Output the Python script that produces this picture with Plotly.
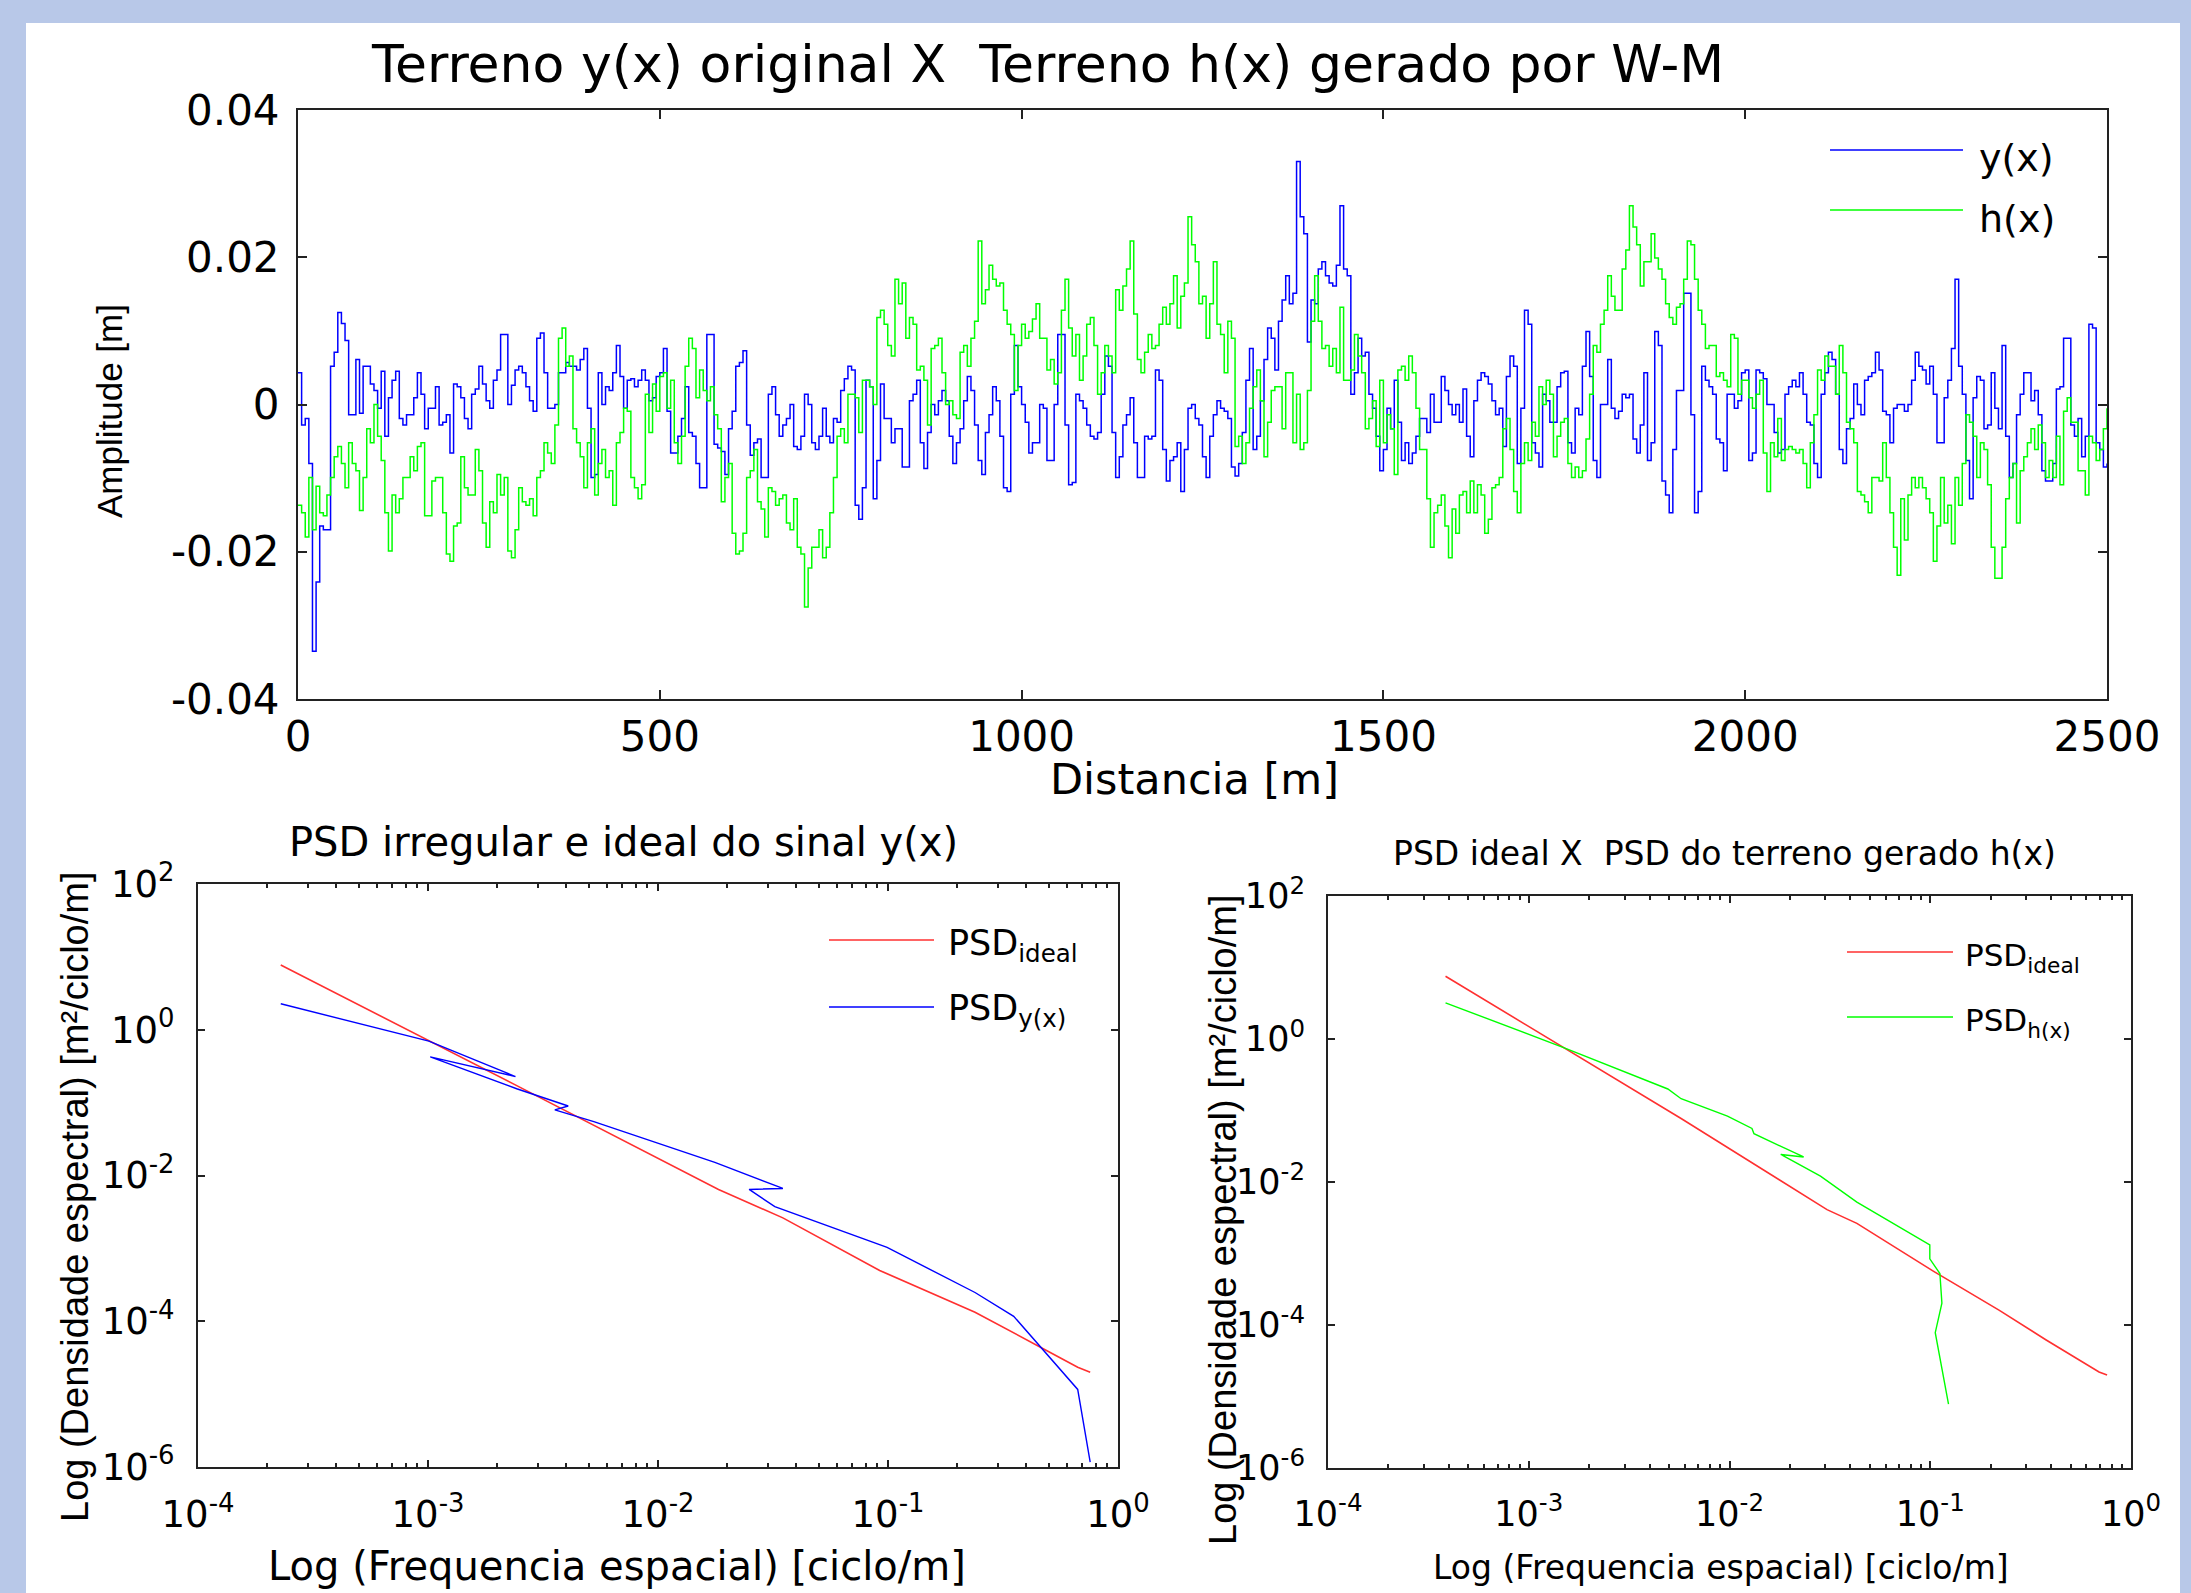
import plotly.graph_objects as go

W, H = 2191, 1593


def px(x):
    return x / W


def py(y):
    return 1 - y / H


# ---------------- data: top chart (amplitude [m] vs distance [m], every 5 m) ----------------
distancia = list(range(0, 2505, 5))

y_x = [
    0.0043, -0.0028, -0.0019, -0.0080, -0.0335, -0.0241, -0.0165, -0.0170, -0.0170, 0.0052,
    0.0071, 0.0125, 0.0110, 0.0087, -0.0014, -0.0014, 0.0061, -0.0012, 0.0052, 0.0052,
    0.0028, 0.0019, -0.0005, 0.0045, -0.0043, 0.0009, 0.0033, 0.0045, -0.0019, -0.0028,
    -0.0014, -0.0014, 0.0009, 0.0043, 0.0014, -0.0033, -0.0005, -0.0005, 0.0024, -0.0028,
    -0.0024, -0.0014, -0.0066, 0.0028, 0.0024, 0.0009, -0.0019, -0.0033, 0.0014, 0.0021,
    0.0052, 0.0028, 0.0005, -0.0005, 0.0033, 0.0047, 0.0095, 0.0095, 0.0000, 0.0026,
    0.0047, 0.0052, 0.0043, 0.0024, 0.0005, -0.0009, 0.0090, 0.0097, 0.0043, -0.0005,
    -0.0005, 0.0000, 0.0043, 0.0043, 0.0057, 0.0052, 0.0052, 0.0047, 0.0061, 0.0076,
    -0.0005, -0.0099, -0.0095, 0.0043, 0.0000, 0.0024, 0.0019, 0.0043, 0.0080, 0.0038,
    -0.0005, 0.0033, 0.0035, 0.0024, 0.0033, 0.0047, 0.0033, 0.0005, 0.0009, 0.0038,
    0.0043, 0.0076, -0.0009, -0.0066, -0.0066, -0.0043, -0.0019, 0.0024, -0.0038, -0.0043,
    -0.0080, -0.0113, -0.0113, 0.0095, 0.0095, -0.0054, -0.0059, -0.0064, -0.0095, -0.0033,
    -0.0009, 0.0052, 0.0057, 0.0073, -0.0028, -0.0069, -0.0052, -0.0047, -0.0099, -0.0099,
    0.0014, 0.0024, -0.0014, -0.0043, -0.0028, -0.0019, 0.0000, -0.0057, -0.0061, -0.0043,
    0.0014, 0.0000, -0.0052, -0.0061, -0.0043, -0.0005, -0.0043, -0.0052, -0.0019, -0.0024,
    0.0019, 0.0035, 0.0052, 0.0047, -0.0137, -0.0156, -0.0113, 0.0033, 0.0024, -0.0128,
    -0.0076, 0.0028, -0.0019, -0.0019, -0.0052, -0.0033, -0.0033, -0.0085, -0.0085, 0.0005,
    0.0014, 0.0033, -0.0052, -0.0087, -0.0038, 0.0000, -0.0014, 0.0005, 0.0019, 0.0005,
    -0.0043, -0.0080, -0.0052, -0.0033, 0.0005, 0.0038, 0.0019, -0.0028, -0.0076, -0.0095,
    -0.0038, -0.0014, 0.0024, 0.0005, -0.0043, -0.0113, -0.0118, 0.0014, 0.0080, 0.0024,
    0.0000, -0.0024, -0.0066, -0.0052, -0.0052, 0.0000, -0.0005, -0.0076, -0.0076, 0.0000,
    0.0095, 0.0095, -0.0028, -0.0109, -0.0106, 0.0014, 0.0005, -0.0005, -0.0028, -0.0043,
    -0.0047, -0.0038, 0.0014, 0.0066, 0.0052, -0.0038, -0.0099, -0.0071, -0.0028, -0.0014,
    0.0009, -0.0052, -0.0099, -0.0099, -0.0043, -0.0047, -0.0043, 0.0047, 0.0033, -0.0061,
    -0.0104, -0.0076, -0.0071, -0.0052, -0.0118, -0.0061, -0.0005, 0.0000, -0.0019, -0.0028,
    -0.0071, -0.0099, -0.0043, -0.0014, 0.0005, -0.0005, -0.0009, -0.0019, -0.0085, -0.0097,
    -0.0080, -0.0038, 0.0033, 0.0076, -0.0061, -0.0043, 0.0005, 0.0061, 0.0104, 0.0090,
    0.0047, 0.0113, 0.0142, 0.0175, 0.0137, 0.0151, 0.0330, 0.0255, 0.0232, 0.0085,
    0.0142, 0.0137, 0.0184, 0.0194, 0.0175, 0.0165, 0.0161, 0.0189, 0.0270, 0.0184,
    0.0175, 0.0014, 0.0043, 0.0090, 0.0066, 0.0071, 0.0014, -0.0005, -0.0043, -0.0090,
    -0.0061, -0.0005, -0.0033, 0.0033, -0.0024, -0.0076, -0.0052, -0.0080, -0.0066, -0.0043,
    -0.0019, -0.0019, -0.0038, 0.0014, -0.0024, -0.0024, 0.0038, 0.0019, 0.0000, -0.0014,
    0.0000, -0.0024, 0.0021, -0.0043, -0.0071, 0.0005, 0.0033, 0.0043, 0.0038, 0.0028,
    0.0005, -0.0014, -0.0005, -0.0057, 0.0038, 0.0066, 0.0052, -0.0080, -0.0005, 0.0128,
    0.0109, -0.0052, -0.0066, -0.0085, 0.0014, 0.0005, -0.0024, -0.0024, 0.0024, 0.0043,
    0.0045, -0.0052, -0.0066, -0.0005, -0.0014, 0.0052, 0.0099, 0.0038, -0.0076, -0.0099,
    0.0000, 0.0000, 0.0061, -0.0005, -0.0019, -0.0009, 0.0014, 0.0009, 0.0014, -0.0047,
    -0.0066, -0.0028, 0.0043, -0.0076, -0.0052, 0.0099, 0.0080, -0.0104, -0.0123, -0.0147,
    -0.0061, 0.0019, 0.0019, 0.0151, 0.0151, -0.0014, -0.0147, -0.0118, 0.0052, 0.0033,
    0.0024, 0.0014, -0.0047, -0.0052, -0.0090, 0.0014, 0.0014, -0.0005, 0.0005, 0.0043,
    0.0047, -0.0076, -0.0066, 0.0047, 0.0043, 0.0035, 0.0000, 0.0000, -0.0038, -0.0066,
    -0.0061, 0.0014, 0.0024, 0.0033, 0.0024, 0.0043, 0.0014, -0.0024, -0.0028, -0.0080,
    -0.0099, 0.0014, 0.0043, 0.0071, 0.0061, 0.0014, -0.0061, -0.0080, -0.0033, -0.0019,
    0.0028, 0.0000, -0.0014, 0.0033, 0.0038, 0.0043, 0.0071, 0.0047, -0.0009, -0.0014,
    -0.0052, -0.0005, 0.0000, 0.0000, -0.0009, 0.0000, 0.0033, 0.0071, 0.0052, 0.0047,
    0.0028, 0.0052, 0.0014, -0.0052, -0.0052, 0.0009, 0.0033, 0.0076, 0.0170, 0.0052,
    0.0014, -0.0076, -0.0128, 0.0009, 0.0038, 0.0033, -0.0033, -0.0028, 0.0043, -0.0005,
    -0.0033, 0.0080, -0.0043, -0.0099, -0.0080, -0.0014, 0.0014, 0.0043, 0.0043, 0.0005,
    0.0019, -0.0014, -0.0090, -0.0104, -0.0104, -0.0080, 0.0021, 0.0024, 0.0090, 0.0090,
    -0.0028, -0.0043, -0.0019, -0.0071, -0.0043, 0.0109, 0.0104, -0.0052, -0.0061, -0.0085,
    -0.0080,
]

h_x = [
    -0.0137, -0.0147, -0.0180, -0.0099, -0.0170, -0.0111, -0.0147, -0.0151, -0.0123, -0.0099,
    -0.0071, -0.0057, -0.0080, -0.0113, -0.0052, -0.0080, -0.0090, -0.0144, -0.0099, -0.0033,
    -0.0052, 0.0000, -0.0043, -0.0076, -0.0147, -0.0199, -0.0123, -0.0147, -0.0128, -0.0099,
    -0.0099, -0.0071, -0.0090, -0.0057, -0.0052, -0.0151, -0.0151, -0.0104, -0.0099, -0.0099,
    -0.0147, -0.0203, -0.0213, -0.0165, -0.0161, -0.0071, -0.0113, -0.0123, -0.0123, -0.0061,
    -0.0090, -0.0161, -0.0194, -0.0132, -0.0147, -0.0095, -0.0123, -0.0099, -0.0199, -0.0208,
    -0.0170, -0.0113, -0.0132, -0.0137, -0.0128, -0.0151, -0.0099, -0.0090, -0.0052, -0.0066,
    -0.0080, -0.0028, 0.0090, 0.0104, 0.0052, 0.0066, -0.0033, -0.0052, -0.0071, -0.0113,
    -0.0052, -0.0033, -0.0123, -0.0080, -0.0061, -0.0099, -0.0090, -0.0137, -0.0052, -0.0038,
    -0.0005, -0.0009, -0.0099, -0.0113, -0.0128, -0.0109, 0.0014, -0.0038, 0.0028, -0.0009,
    0.0038, 0.0043, -0.0005, 0.0033, -0.0052, -0.0080, -0.0043, 0.0052, 0.0090, 0.0076,
    0.0009, 0.0047, 0.0019, 0.0005, 0.0024, -0.0014, -0.0033, -0.0132, -0.0099, -0.0080,
    -0.0175, -0.0203, -0.0199, -0.0175, -0.0099, -0.0090, -0.0061, -0.0132, -0.0142, -0.0180,
    -0.0113, -0.0118, -0.0137, -0.0128, -0.0123, -0.0161, -0.0170, -0.0128, -0.0194, -0.0203,
    -0.0275, -0.0222, -0.0194, -0.0194, -0.0170, -0.0208, -0.0194, -0.0147, -0.0099, -0.0043,
    -0.0033, -0.0052, 0.0014, 0.0014, 0.0009, -0.0038, 0.0033, 0.0033, 0.0024, 0.0000,
    0.0118, 0.0128, 0.0109, 0.0080, 0.0066, 0.0170, 0.0137, 0.0165, 0.0090, 0.0118,
    0.0109, 0.0047, 0.0052, 0.0033, -0.0028, 0.0076, 0.0080, 0.0090, 0.0043, 0.0000,
    0.0005, -0.0014, -0.0019, 0.0071, 0.0080, 0.0052, 0.0090, 0.0113, 0.0222, 0.0137,
    0.0156, 0.0189, 0.0170, 0.0161, 0.0165, 0.0128, 0.0109, 0.0095, 0.0019, 0.0080,
    0.0109, 0.0090, 0.0099, 0.0116, 0.0137, 0.0090, 0.0090, 0.0047, 0.0061, 0.0028,
    0.0043, 0.0128, 0.0170, 0.0104, 0.0066, 0.0095, 0.0033, 0.0066, 0.0109, 0.0118,
    0.0080, 0.0014, 0.0043, 0.0080, 0.0066, 0.0043, 0.0156, 0.0128, 0.0161, 0.0184,
    0.0222, 0.0123, 0.0061, 0.0043, 0.0071, 0.0095, 0.0076, 0.0080, 0.0109, 0.0132,
    0.0109, 0.0137, 0.0175, 0.0104, 0.0147, 0.0165, 0.0255, 0.0217, 0.0194, 0.0137,
    0.0147, 0.0090, 0.0137, 0.0194, 0.0109, 0.0095, 0.0043, 0.0113, 0.0090, -0.0057,
    -0.0043, -0.0080, -0.0052, -0.0005, 0.0024, 0.0047, 0.0005, -0.0071, -0.0024, 0.0019,
    0.0024, 0.0024, -0.0033, 0.0043, 0.0043, -0.0052, 0.0014, -0.0061, -0.0052, 0.0019,
    0.0113, 0.0175, 0.0113, 0.0076, 0.0080, 0.0052, 0.0076, 0.0043, 0.0132, 0.0033,
    0.0033, 0.0047, 0.0095, 0.0066, 0.0043, -0.0033, -0.0019, 0.0005, -0.0057, 0.0033,
    -0.0052, -0.0014, -0.0033, -0.0095, 0.0047, 0.0052, 0.0033, 0.0066, 0.0043, -0.0005,
    -0.0061, -0.0061, -0.0128, -0.0194, -0.0147, -0.0137, -0.0123, -0.0165, -0.0208, -0.0142,
    -0.0175, -0.0123, -0.0118, -0.0147, -0.0104, -0.0147, -0.0109, -0.0123, -0.0175, -0.0156,
    -0.0113, -0.0109, -0.0099, -0.0033, -0.0019, -0.0061, -0.0118, -0.0147, -0.0080, -0.0052,
    -0.0076, -0.0024, -0.0043, 0.0024, 0.0000, 0.0033, 0.0014, -0.0071, -0.0043, -0.0024,
    -0.0019, -0.0080, -0.0099, -0.0085, -0.0099, -0.0090, -0.0047, 0.0014, 0.0080, 0.0071,
    0.0109, 0.0128, 0.0175, 0.0147, 0.0128, 0.0128, 0.0184, 0.0210, 0.0270, 0.0241,
    0.0217, 0.0161, 0.0194, 0.0194, 0.0232, 0.0199, 0.0184, 0.0170, 0.0137, 0.0118,
    0.0109, 0.0132, 0.0137, 0.0170, 0.0222, 0.0217, 0.0170, 0.0128, 0.0109, 0.0076,
    0.0080, 0.0080, 0.0038, 0.0043, 0.0033, 0.0024, 0.0095, 0.0090, 0.0014, 0.0033,
    0.0033, 0.0009, -0.0005, 0.0014, 0.0033, -0.0066, -0.0118, -0.0052, -0.0071, -0.0019,
    -0.0076, -0.0061, -0.0057, -0.0061, -0.0066, -0.0061, -0.0080, -0.0113, -0.0052, -0.0014,
    0.0047, 0.0033, 0.0066, 0.0052, 0.0052, 0.0014, 0.0080, 0.0043, -0.0024, -0.0033,
    -0.0052, -0.0118, -0.0123, -0.0132, -0.0147, -0.0099, -0.0099, -0.0104, -0.0052, -0.0099,
    -0.0147, -0.0194, -0.0232, -0.0128, -0.0184, -0.0123, -0.0099, -0.0113, -0.0099, -0.0113,
    -0.0128, -0.0147, -0.0213, -0.0165, -0.0099, -0.0161, -0.0137, -0.0189, -0.0099, -0.0137,
    -0.0080, -0.0014, -0.0024, -0.0043, -0.0099, -0.0052, -0.0061, -0.0109, -0.0194, -0.0236,
    -0.0236, -0.0194, -0.0128, -0.0099, -0.0080, -0.0161, -0.0090, -0.0071, -0.0052, -0.0033,
    -0.0061, -0.0028, -0.0052, -0.0099, -0.0076, -0.0099, -0.0043, -0.0109, -0.0009, 0.0009,
    -0.0024, -0.0024, -0.0090, -0.0090, -0.0123, -0.0043, -0.0052, -0.0076, -0.0061, -0.0033,
    -0.0005,
]

x_ticks_top = [0, 500, 1000, 1500, 2000, 2500]
x_ticktext_top = ["0", "500", "1000", "1500", "2000", "2500"]
y_ticks_top = [-0.04, -0.02, 0, 0.02, 0.04]
y_ticktext_top = ["-0.04", "-0.02", "0", "0.02", "0.04"]

# ---------------- data: PSD of y(x) (bottom left) ----------------
freq_ideal_y = [2.29e-4, 1.047e-3, 2.35e-3, 1.833e-2, 3.49e-2, 9.20e-2, 2.39e-1, 4.98e-1, 6.68e-1, 7.57e-1]
psd_ideal_y = [7.73, 0.676, 0.181, 6.44e-3, 2.62e-3, 4.98e-4, 1.33e-4, 3.85e-5, 2.34e-5, 2.00e-5]

freq_y = [2.29e-4, 1.009e-3, 2.40e-3, 1.023e-3, 2.43e-3, 4.07e-3, 3.56e-3, 5.26e-3, 1.767e-2,
          3.49e-2, 2.49e-2, 3.22e-2, 9.91e-2, 2.39e-1, 3.52e-1, 6.68e-1, 7.57e-1]
psd_y = [2.27, 0.698, 0.228, 0.425, 0.155, 0.0899, 0.0794, 0.0548, 0.0151,
         6.64e-3, 6.44e-3, 3.74e-3, 1.03e-3, 2.48e-4, 1.17e-4, 1.16e-5, 1.17e-6]

# ---------------- data: PSD of h(x) (bottom right) ----------------
freq_ideal_h = [3.85e-4, 1.514e-3, 3.50e-3, 5.74e-3, 3.06e-2, 4.31e-2, 1.035e-1, 2.21e-1, 3.78e-1, 6.93e-1, 7.60e-1]
psd_ideal_h = [7.55, 0.746, 0.179, 0.0773, 4.11e-3, 2.64e-3, 5.68e-4, 1.60e-4, 6.17e-5, 2.20e-5, 2.00e-5]

freq_h = [3.85e-4, 1.514e-3, 4.93e-3, 5.74e-3, 9.77e-3, 1.294e-2, 1.324e-2, 2.34e-2, 1.80e-2,
          2.84e-2, 4.31e-2, 6.56e-2, 9.95e-2, 9.95e-2, 1.117e-1, 1.143e-1, 1.059e-1, 1.233e-1]
psd_h = [3.21, 0.746, 0.200, 0.146, 0.0837, 0.0562, 0.0473, 0.0224, 0.0243,
         0.0121, 5.22e-3, 2.64e-3, 1.32e-3, 8.43e-4, 5.24e-4, 2.02e-4, 7.81e-5, 7.85e-6]

log_x_ticks = [1e-4, 1e-3, 1e-2, 1e-1, 1]
log_x_ticktext = ["10<sup>-4</sup>", "10<sup>-3</sup>", "10<sup>-2</sup>", "10<sup>-1</sup>", "10<sup>0</sup>"]
log_y_ticks = [1e-6, 1e-4, 1e-2, 1, 1e2]
log_y_ticktext = ["10<sup>-6</sup>", "10<sup>-4</sup>", "10<sup>-2</sup>", "10<sup>0</sup>", "10<sup>2</sup>"]
minor_x_ticks = [k * 10.0 ** e for e in range(-4, 0) for k in range(2, 10)]

BLUE = "#0000FF"
GREEN = "#00FF00"
RED = "#FF3030"
AXC = "#222222"
FONT = "DejaVu Sans"
ARIAL = "Liberation Sans, Arial"
FRAME = "#B8C8E8"

fig = go.Figure()
fig.add_trace(go.Scatter(x=distancia, y=y_x, mode="lines", name="y(x)",
                         line=dict(color=BLUE, width=1.5, shape="hv"), xaxis="x", yaxis="y"))
fig.add_trace(go.Scatter(x=distancia, y=h_x, mode="lines", name="h(x)",
                         line=dict(color=GREEN, width=1.5, shape="hv"), xaxis="x", yaxis="y"))
fig.add_trace(go.Scatter(x=freq_ideal_y, y=psd_ideal_y, mode="lines", name="PSD ideal",
                         line=dict(color=RED, width=1.6), xaxis="x2", yaxis="y2"))
fig.add_trace(go.Scatter(x=freq_y, y=psd_y, mode="lines", name="PSD y(x)",
                         line=dict(color=BLUE, width=1.4), xaxis="x2", yaxis="y2"))
fig.add_trace(go.Scatter(x=freq_ideal_h, y=psd_ideal_h, mode="lines", name="PSD ideal",
                         line=dict(color=RED, width=1.6), xaxis="x3", yaxis="y3"))
fig.add_trace(go.Scatter(x=freq_h, y=psd_h, mode="lines", name="PSD h(x)",
                         line=dict(color=GREEN, width=1.4), xaxis="x3", yaxis="y3"))

common = dict(showline=True, linecolor=AXC, linewidth=2, mirror="allticks", ticks="inside",
              tickcolor=AXC, tickwidth=2, showgrid=False, zeroline=False, automargin=False)

fig.update_layout(
    width=W, height=H, margin=dict(l=0, r=0, t=0, b=0, pad=0, autoexpand=False),
    paper_bgcolor=FRAME, plot_bgcolor="white", showlegend=False,
    font=dict(family=FONT, color="black"),
    xaxis=dict(domain=[px(298), px(2107)], anchor="y", range=[0, 2500], tickmode="array",
               tickvals=x_ticks_top, ticktext=x_ticktext_top, ticklen=9,
               tickfont=dict(size=42, family=FONT), ticklabelstandoff=0, **common),
    yaxis=dict(domain=[py(699), py(110)], anchor="x", range=[-0.04, 0.04], tickmode="array",
               tickvals=y_ticks_top, ticktext=y_ticktext_top, ticklen=9,
               tickfont=dict(size=42, family=FONT), ticklabelstandoff=8, **common),
    xaxis2=dict(domain=[px(198), px(1118)], anchor="y2", type="log", range=[-4, 0], tickmode="array",
                tickvals=log_x_ticks, ticktext=log_x_ticktext, ticklen=7,
                minor=dict(tickmode="array", tickvals=minor_x_ticks, ticks="inside", ticklen=4,
                           tickcolor=AXC, tickwidth=2, showgrid=False),
                tickfont=dict(size=37, family=FONT), ticklabelstandoff=14, **common),
    yaxis2=dict(domain=[py(1467), py(884)], anchor="x2", type="log", range=[-6, 2], tickmode="array",
                tickvals=log_y_ticks, ticktext=log_y_ticktext, ticklen=7,
                tickfont=dict(size=37, family=FONT), ticklabelstandoff=14, **common),
    xaxis3=dict(domain=[px(1328), px(2131)], anchor="y3", type="log", range=[-4, 0], tickmode="array",
                tickvals=log_x_ticks, ticktext=log_x_ticktext, ticklen=7,
                minor=dict(tickmode="array", tickvals=minor_x_ticks, ticks="inside", ticklen=4,
                           tickcolor=AXC, tickwidth=2, showgrid=False),
                tickfont=dict(size=35, family=FONT), ticklabelstandoff=14, **common),
    yaxis3=dict(domain=[py(1468), py(896)], anchor="x3", type="log", range=[-6, 2], tickmode="array",
                tickvals=log_y_ticks, ticktext=log_y_ticktext, ticklen=7,
                tickfont=dict(size=35, family=FONT), ticklabelstandoff=14, **common),
)

shapes = [
    dict(type="rect", xref="paper", yref="paper", x0=px(26), x1=px(2180), y0=0, y1=py(23),
         fillcolor="white", line=dict(width=0), layer="below"),
    # legend samples
    dict(type="line", xref="paper", yref="paper", x0=px(1830), x1=px(1963), y0=py(150), y1=py(150),
         line=dict(color=BLUE, width=1.6)),
    dict(type="line", xref="paper", yref="paper", x0=px(1830), x1=px(1963), y0=py(210), y1=py(210),
         line=dict(color=GREEN, width=1.6)),
    dict(type="line", xref="paper", yref="paper", x0=px(829), x1=px(934), y0=py(940), y1=py(940),
         line=dict(color=RED, width=1.6)),
    dict(type="line", xref="paper", yref="paper", x0=px(829), x1=px(934), y0=py(1007), y1=py(1007),
         line=dict(color=BLUE, width=1.4)),
    dict(type="line", xref="paper", yref="paper", x0=px(1847), x1=px(1953), y0=py(952), y1=py(952),
         line=dict(color=RED, width=1.6)),
    dict(type="line", xref="paper", yref="paper", x0=px(1847), x1=px(1953), y0=py(1017), y1=py(1017),
         line=dict(color=GREEN, width=1.4)),
]


def ann(text, x, y, size, family=FONT, angle=0, xanchor="center", yanchor="middle"):
    return dict(text=text, x=px(x), y=py(y), xref="paper", yref="paper", showarrow=False,
                xanchor=xanchor, yanchor=yanchor, textangle=angle,
                font=dict(size=size, family=family, color="black"))


annotations = [
    ann("Terreno y(x) original X\u00a0 Terreno h(x) gerado por W-M", 1047, 64, 52),
    ann("Distancia [m]", 1195, 779, 43),
    ann("Amplitude [m]", 109, 411, 35, family=ARIAL, angle=-90),
    ann("PSD irregular e ideal do sinal y(x)", 623, 842, 40),
    ann("Log (Densidade espectral) [m²/ciclo/m]", 75, 1197, 38, family=ARIAL, angle=-90),
    ann("Log (Frequencia espacial) [ciclo/m]", 617, 1566, 40),
    ann("PSD ideal X\u00a0 PSD do terreno gerado h(x)", 1724, 853, 33),
    ann("Log (Densidade espectral) [m²/ciclo/m]", 1223, 1220, 38, family=ARIAL, angle=-90),
    ann("Log (Frequencia espacial) [ciclo/m]", 1721, 1567, 33),
    # legend labels
    ann("y(x)", 1977, 158, 38, xanchor="left"),
    ann("h(x)", 1977, 219, 38, xanchor="left"),
    ann("PSD<sub>ideal</sub>", 946, 945, 35, xanchor="left"),
    ann("PSD<sub>y(x)</sub>", 946, 1011, 35, xanchor="left"),
    ann("PSD<sub>ideal</sub>", 1963, 957, 31, xanchor="left"),
    ann("PSD<sub>h(x)</sub>", 1963, 1022, 31, xanchor="left"),
]

fig.update_layout(shapes=shapes, annotations=annotations)
fig.write_html("out.html", config={"displayModeBar": False},
               post_script="document.body.style.margin='0px';")
